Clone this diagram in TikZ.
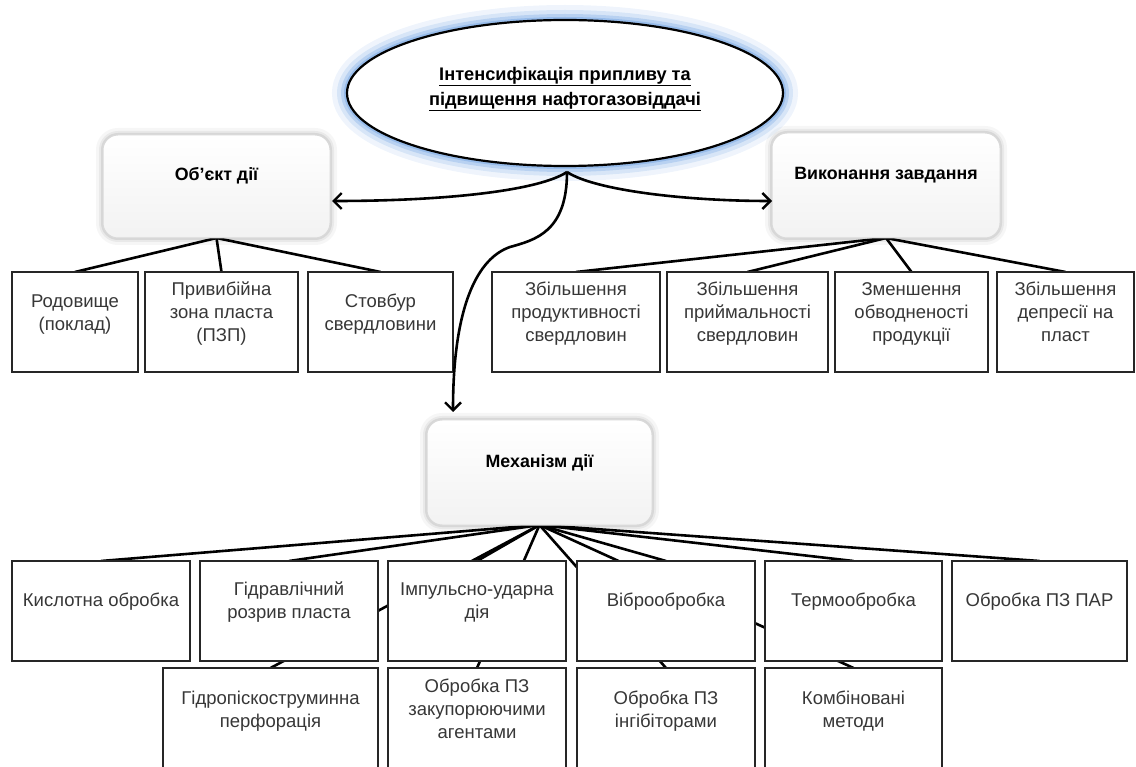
\documentclass[tikz,border=0pt]{standalone}
\usepackage{fontspec}
\setmainfont{Liberation Sans}
\usetikzlibrary{arrows.meta,backgrounds,shapes.geometric}
\definecolor{glowc}{RGB}{120,168,228}
\definecolor{txt}{RGB}{55,55,55}
\newcommand\liftbox[2]{\raisebox{0pt}[\height][\dimexpr\depth+#1\relax]{#2}}
\newcommand\tl[1]{\begin{tabular}{@{}c@{}}#1\end{tabular}}
\begin{document}
\begin{tikzpicture}[x=1pt,y=-1pt,
  every node/.style={inner sep=0pt, outer sep=0pt},
  rowbox/.style={draw=black!85, line width=2.5pt, fill=white, text=txt,
    minimum height=100pt, font=\fontsize{18.5}{23}\selectfont},
  titlebox/.style={rounded corners=15pt, top color=white, bottom color=black!5,
    draw=black!15, line width=1pt, font=\fontsize{17.8}{20}\selectfont\bfseries,
    preaction={draw=black, draw opacity=0.035, line width=14pt},
    preaction={draw=black, draw opacity=0.05, line width=8pt},
    preaction={draw=black, draw opacity=0.08, line width=4pt}},
  topell/.style={ellipse, draw=black, line width=2.2pt, fill=white,
    minimum width=436pt, minimum height=146pt, font=\fontsize{18.2}{24}\selectfont\bfseries,
    preaction={draw=glowc, draw opacity=0.12, line width=30pt},
    preaction={draw=glowc, draw opacity=0.2, line width=20pt},
    preaction={draw=glowc, draw opacity=0.32, line width=12pt},
    preaction={draw=glowc, draw opacity=0.5, line width=6pt}},
  link/.style={line width=2.6pt, draw=black},
  arr/.style={link, -{Straight Barb[length=8pt,width=16pt,line width=2.4pt]}}
]
\useasboundingbox (0,0) rectangle (1136,767);
\clip (0,0) rectangle (1136,767);

% top ellipse
\node[topell] (top) at (565,93) {\liftbox{10pt}{\tl{\underline{Інтенсифікація припливу та}\\[1pt]\underline{підвищення нафтогазовіддачі}}}};

% title boxes
\node[titlebox, minimum width=227pt, minimum height=103pt] (obj) at (216.5,186.5) {\liftbox{21pt}{Об'єкт дії}};
\node[titlebox, minimum width=228pt, minimum height=105pt] (vyk) at (886,185.5) {\liftbox{21pt}{Виконання завдання}};
\node[titlebox, minimum width=225pt, minimum height=105pt] (mech) at (539.5,472.5) {\liftbox{20pt}{Механізм дії}};

% row 1
\node[rowbox, minimum width=126pt] (r1a) at (75,322) {\liftbox{16pt}{\tl{Родовище\\(поклад)}}};
\node[rowbox, minimum width=153pt] (r1b) at (221.5,322) {\liftbox{16pt}{\tl{Привибійна\\зона пласта\\(ПЗП)}}};
\node[rowbox, minimum width=145pt] (r1c) at (380.5,322) {\liftbox{16pt}{\tl{Стовбур\\свердловини}}};
\node[rowbox, minimum width=168pt] (r1d) at (576,322) {\liftbox{16pt}{\tl{Збільшення\\продуктивності\\свердловин}}};
\node[rowbox, minimum width=161pt] (r1e) at (747.5,322) {\liftbox{16pt}{\tl{Збільшення\\приймальності\\свердловин}}};
\node[rowbox, minimum width=153pt] (r1f) at (911.5,322) {\liftbox{16pt}{\tl{Зменшення\\обводненості\\продукції}}};
\node[rowbox, minimum width=137pt] (r1g) at (1065.5,322) {\liftbox{16pt}{\tl{Збільшення\\депресії на\\пласт}}};

% row 2
\node[rowbox, minimum width=178pt] (r2a) at (101,611) {\liftbox{18pt}{Кислотна обробка}};
\node[rowbox, minimum width=178pt] (r2b) at (289,611) {\liftbox{18pt}{\tl{Гідравлічний\\розрив пласта}}};
\node[rowbox, minimum width=178pt] (r2c) at (477,611) {\liftbox{18pt}{\tl{Імпульсно-ударна\\дія}}};
\node[rowbox, minimum width=178pt] (r2d) at (666,611) {\liftbox{18pt}{Віброобробка}};
\node[rowbox, minimum width=177pt] (r2e) at (853.5,611) {\liftbox{18pt}{Термообробка}};
\node[rowbox, minimum width=175pt] (r2f) at (1039.5,611) {\liftbox{18pt}{Обробка ПЗ ПАР}};

% row 3
\node[rowbox, minimum width=215pt, minimum height=104pt] (r3a) at (270.5,720) {\liftbox{18pt}{\tl{Гідропіскоструминна\\перфорація}}};
\node[rowbox, minimum width=178pt, minimum height=104pt] (r3b) at (477,720) {\liftbox{18pt}{\tl{Обробка ПЗ\\закупорюючими\\агентами}}};
\node[rowbox, minimum width=178pt, minimum height=104pt] (r3c) at (666,720) {\liftbox{18pt}{\tl{Обробка ПЗ\\інгібіторами}}};
\node[rowbox, minimum width=177pt, minimum height=104pt] (r3d) at (853.5,720) {\liftbox{18pt}{\tl{Комбіновані\\методи}}};

\begin{scope}[on background layer]
  \foreach \b in {r1a,r1b,r1c} \draw[link] (obj.south) -- (\b.north);
  \foreach \b in {r1d,r1e,r1f,r1g} \draw[link] (vyk.south) -- (\b.north);
  \foreach \b in {r2a,r2b,r2c,r2d,r2e,r2f,r3a,r3b,r3c,r3d} \draw[link] (mech.south) -- (\b.north);
\end{scope}

% arrows from the ellipse
\coordinate (J) at (567,172);
\draw[arr] (J) .. controls (540,190) and (450,201) .. ([xshift=2pt,yshift=-14.5pt]obj.east);
\draw[arr] (J) .. controls (594,190) and (684,201) .. ([yshift=-15.5pt]vyk.west);
\draw[arr] (J) .. controls (567,232) and (535,240) .. (510,247)
  .. controls (478,258) and (453,305) .. ([xshift=26pt,yshift=8pt]mech.north west);
\end{tikzpicture}
\end{document}
